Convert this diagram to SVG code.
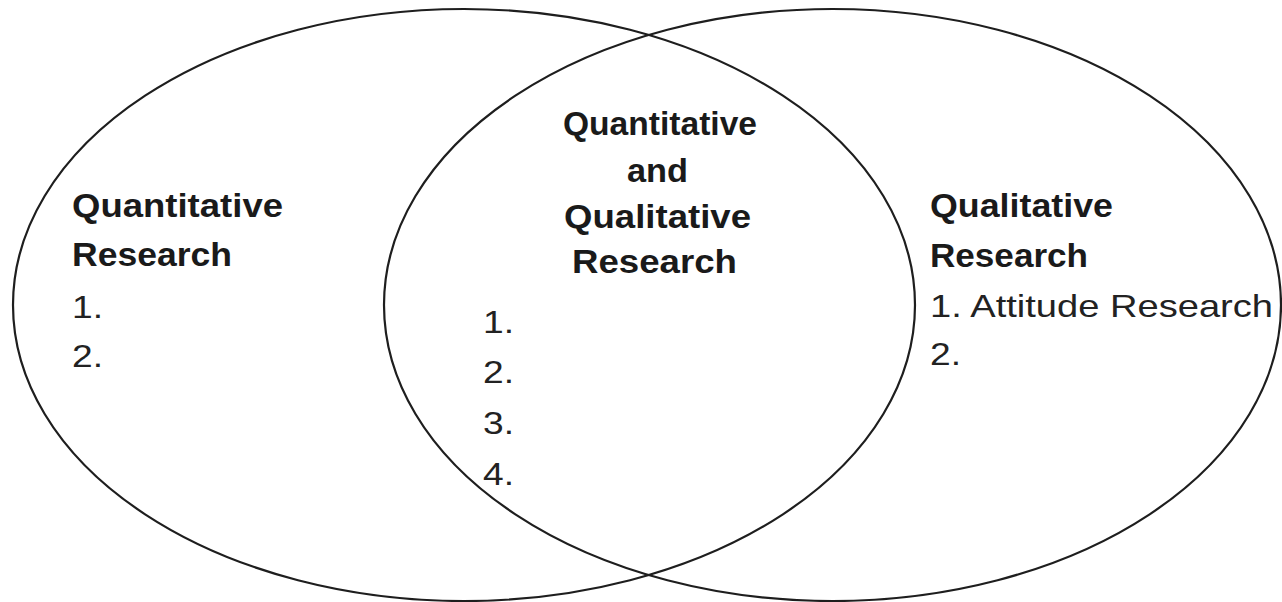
<svg xmlns="http://www.w3.org/2000/svg" width="1282" height="602" viewBox="0 0 1282 602">
  <style>
    .ring { fill: none; stroke: #1e1e1e; stroke-width: 2.2; }
    .h { font-family: "Liberation Sans", Arial, sans-serif; font-weight: bold; font-size: 33px; fill: #1a1a1a; }
    .t { font-family: "Liberation Sans", Arial, sans-serif; font-size: 32px; fill: #222222; }
  </style>
  <rect width="1282" height="602" fill="#ffffff"/>
  <g id="left-set">
    <ellipse class="ring" cx="464" cy="305" rx="451" ry="296"/>
  </g>
  <g id="right-set">
    <ellipse class="ring" cx="832.5" cy="305" rx="448.5" ry="296"/>
  </g>
  <g id="left-label">
    <text class="h" x="72" y="217" textLength="211" lengthAdjust="spacingAndGlyphs">Quantitative</text>
    <text class="h" x="72" y="266" textLength="160" lengthAdjust="spacingAndGlyphs">Research</text>
    <text class="t" x="72" y="318" textLength="31" lengthAdjust="spacingAndGlyphs">1.</text>
    <text class="t" x="72" y="367" textLength="31" lengthAdjust="spacingAndGlyphs">2.</text>
  </g>
  <g id="center-label">
    <text class="h" x="563" y="135" textLength="194" lengthAdjust="spacingAndGlyphs">Quantitative</text>
    <text class="h" x="627" y="182" textLength="61" lengthAdjust="spacingAndGlyphs">and</text>
    <text class="h" x="564" y="228" textLength="187" lengthAdjust="spacingAndGlyphs">Qualitative</text>
    <text class="h" x="572" y="273" textLength="165" lengthAdjust="spacingAndGlyphs">Research</text>
    <text class="t" x="483" y="333" textLength="31" lengthAdjust="spacingAndGlyphs">1.</text>
    <text class="t" x="483" y="383" textLength="31" lengthAdjust="spacingAndGlyphs">2.</text>
    <text class="t" x="483" y="434" textLength="31" lengthAdjust="spacingAndGlyphs">3.</text>
    <text class="t" x="483" y="485" textLength="31" lengthAdjust="spacingAndGlyphs">4.</text>
  </g>
  <g id="right-label">
    <text class="h" x="930" y="217" textLength="183" lengthAdjust="spacingAndGlyphs">Qualitative</text>
    <text class="h" x="930" y="267" textLength="158" lengthAdjust="spacingAndGlyphs">Research</text>
    <text class="t" x="930" y="317" textLength="343" lengthAdjust="spacingAndGlyphs">1. Attitude Research</text>
    <text class="t" x="930" y="365" textLength="31" lengthAdjust="spacingAndGlyphs">2.</text>
  </g>
  <g id="connectors"></g>
</svg>
